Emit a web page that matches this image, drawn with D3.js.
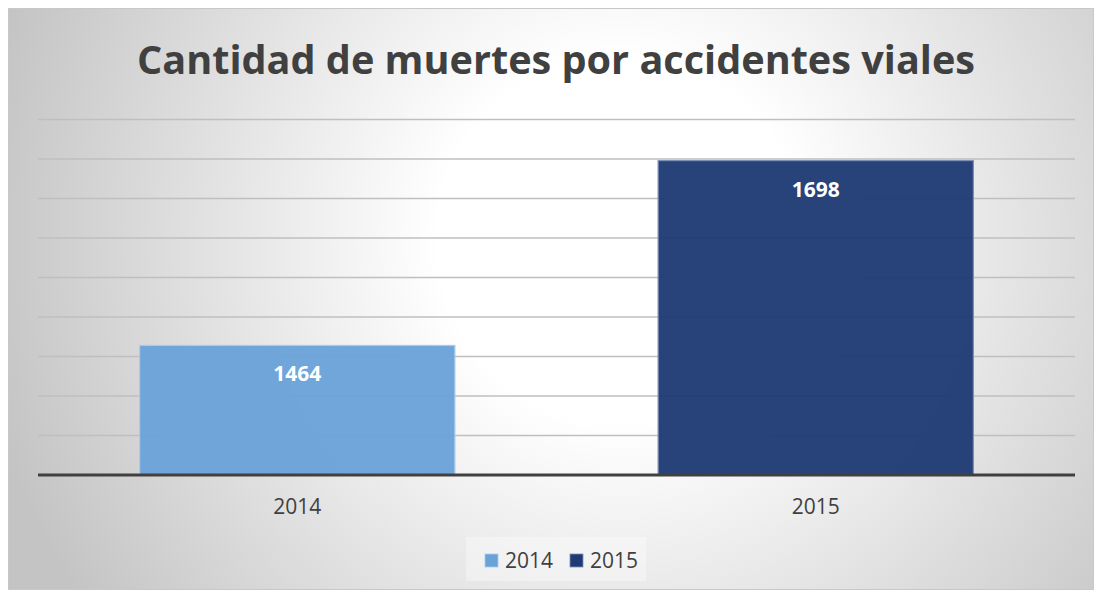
<!DOCTYPE html>
<html><head><meta charset="utf-8">
<script src="https://cdn.jsdelivr.net/npm/d3@7"></script>
<style>html,body{margin:0;padding:0;background:#fff;}svg{display:block;}</style>
</head><body>
<svg id="chart" width="1094" height="590"></svg>
<script>
const title = "Cantidad de muertes por accidentes viales";
const categories = ["2014", "2015"];
const values = [1464, 1698];
const yTicks = [1300, 1350, 1400, 1450, 1500, 1550, 1600, 1650, 1700, 1750];
const colors = ["#6aa2d7", "#1f3b74"];
const strokes = ["#a9cbeb", "#7d90b6"];

(function(){
const W = 1094, H = 590;
const svg = d3.select("#chart");
const defs = svg.append("defs");
const grad = defs.append("radialGradient").attr("id","bg")
  .attr("gradientUnits","userSpaceOnUse").attr("cx",620).attr("cy",240).attr("r",650);
grad.append("stop").attr("offset","0%").attr("stop-color","#ffffff");
grad.append("stop").attr("offset","28%").attr("stop-color","#ffffff");
grad.append("stop").attr("offset","100%").attr("stop-color","#c4c4c4");

svg.append("rect").attr("x",8.5).attr("y",8.5).attr("width",W-9).attr("height",H-9)
  .attr("fill","url(#bg)").attr("stroke","#c8c8c8").attr("stroke-width",1);

const pLeft = 38, pRight = 1075, pTop = 119.5, pBottom = 475;
const x = d3.scaleBand().domain(categories).range([pLeft, pRight]).paddingInner(0.392).paddingOuter(0.196);
const y = d3.scaleLinear().domain([1300, 1750]).range([pBottom, pTop]);

svg.append("g").selectAll("line").data(yTicks.slice(1)).join("line")
  .attr("x1", pLeft).attr("x2", pRight)
  .attr("y1", d => y(d)).attr("y2", d => y(d))
  .attr("stroke", "#bfbfbf").attr("stroke-width", 1.6);

svg.append("g").selectAll("rect").data(values).join("rect")
  .attr("x", (d,i) => x(categories[i]))
  .attr("y", d => y(d))
  .attr("width", x.bandwidth())
  .attr("height", d => y(1300) - y(d))
  .attr("fill", (d,i) => colors[i]).attr("fill-opacity", 0.96)
  .attr("stroke", (d,i) => strokes[i]).attr("stroke-width", 1.2);

svg.append("line").attr("x1", pLeft).attr("x2", pRight)
  .attr("y1", pBottom).attr("y2", pBottom)
  .attr("stroke", "#404040").attr("stroke-width", 3);

svg.append("g").selectAll("text").data(values).join("text")
  .attr("x", (d,i) => x(categories[i]) + x.bandwidth()/2)
  .attr("y", d => y(d) + 36)
  .attr("text-anchor","middle")
  .attr("font-family","'Open Sans', sans-serif").attr("font-weight","bold")
  .attr("font-size", 21).attr("fill","#ffffff")
  .text(d => d);

const xAxis = d3.axisBottom(x).tickSize(0).tickPadding(0);
const gx = svg.append("g").attr("transform", `translate(0,${pBottom})`).call(xAxis);
gx.select(".domain").remove();
gx.selectAll("text").attr("y", 39).attr("dy", 0)
  .attr("font-family","'Open Sans', sans-serif").attr("font-size", 21).attr("fill","#404040");

svg.append("text").attr("x", 556).attr("y", 74).attr("text-anchor","middle")
  .attr("font-family","'Open Sans', sans-serif").attr("font-weight","bold")
  .attr("font-size", 40).attr("fill","#404040")
  .attr("textLength", 838).attr("lengthAdjust", "spacingAndGlyphs")
  .text(title);

svg.append("rect").attr("x", 466).attr("y", 537).attr("width", 180).attr("height", 44)
  .attr("fill", "#ffffff").attr("fill-opacity", 0.35);
const lg = svg.append("g").selectAll("g").data(categories).join("g")
  .attr("transform", (d,i) => `translate(${485 + i*85},554)`);
lg.append("rect").attr("width", 13).attr("height", 13)
  .attr("fill", (d,i) => colors[i]).attr("stroke", (d,i)=>strokes[i]).attr("stroke-width",0.8);
lg.append("text").attr("x", 20).attr("y", 13.5)
  .attr("font-family","'Open Sans', sans-serif").attr("font-size", 21).attr("fill","#404040")
  .text(d => d);
})();
</script>
</body></html>
